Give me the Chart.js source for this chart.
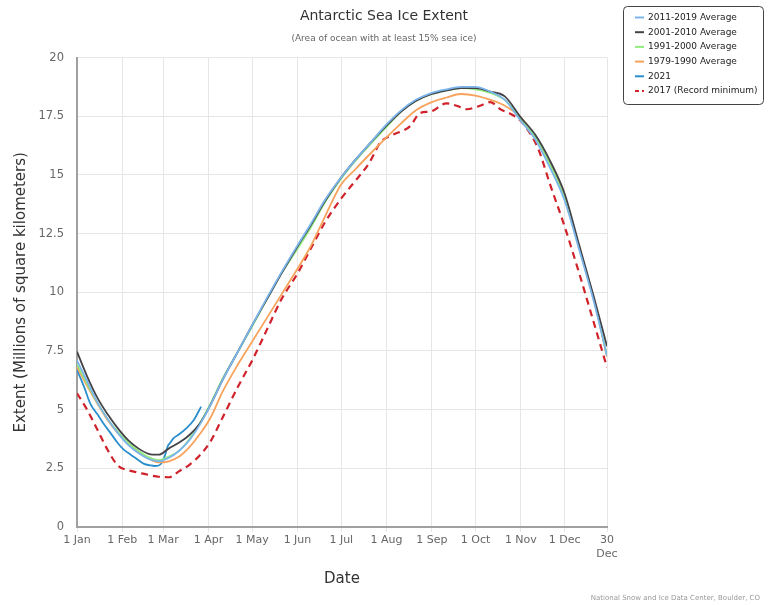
<!DOCTYPE html>
<html>
<head>
<meta charset="utf-8">
<script src="https://cdn.jsdelivr.net/npm/chart.js"></script>
<style>
  body { margin: 0; background: #fff; }
  #wrap { width: 768px; height: 605px; }
</style>
</head>
<body>
<div id="wrap"><canvas id="js--chart" width="768" height="605"></canvas></div>
<script>
// day of year (0 = 1 Jan) for the averages
const days = [0, 7, 14, 21, 28, 35, 42, 49, 56, 63, 70, 77, 84, 91, 100, 110, 120, 130, 140, 151,
  160, 170, 181, 190, 200, 212, 222, 232, 243, 253, 263, 273, 283, 293, 304, 314, 324, 334, 344, 354, 363];

const avg2011 = [7.1, 6.2, 5.3, 4.6, 4.0, 3.5, 3.15, 2.9, 2.8, 2.95, 3.25, 3.7, 4.35, 5.15, 6.3, 7.45, 8.6, 9.75, 10.85, 12.0,
  12.9, 13.95, 14.9, 15.6, 16.3, 17.15, 17.75, 18.2, 18.5, 18.65, 18.75, 18.75, 18.55, 18.2, 17.3, 16.5, 15.3, 13.9, 11.8, 9.6, 7.3];
const avg2001 = [7.47, 6.41, 5.5, 4.8, 4.2, 3.7, 3.35, 3.12, 3.08, 3.35, 3.6, 3.92, 4.4, 5.15, 6.3, 7.45, 8.6, 9.7, 10.8, 11.95,
  12.85, 13.9, 14.9, 15.6, 16.3, 17.1, 17.7, 18.15, 18.45, 18.6, 18.7, 18.7, 18.55, 18.35, 17.45, 16.7, 15.6, 14.2, 12.0, 9.8, 7.7];
const avg1991 = [6.95, 6.1, 5.3, 4.6, 4.05, 3.6, 3.25, 2.98, 2.85, 3.0, 3.25, 3.75, 4.4, 5.2, 6.35, 7.45, 8.55, 9.7, 10.8, 11.85,
  12.75, 13.85, 14.85, 15.55, 16.25, 17.05, 17.7, 18.15, 18.45, 18.6, 18.7, 18.65, 18.5, 18.2, 17.4, 16.6, 15.45, 14.0, 11.9, 9.7, 7.3];
const avg1979 = [6.83, 6.0, 5.25, 4.55, 4.0, 3.55, 3.2, 2.92, 2.75, 2.8, 3.0, 3.4, 3.95, 4.6, 5.8, 6.9, 7.9, 8.9, 9.9, 11.0,
  11.95, 13.25, 14.6, 15.2, 15.85, 16.6, 17.2, 17.75, 18.1, 18.3, 18.45, 18.38, 18.2, 17.95, 17.45, 16.6, 15.5, 14.0, 11.9, 9.7, 7.25];

const days2021 = [0, 5, 9, 14, 18, 23, 28, 32, 37, 41, 46, 50, 53, 56, 58, 60, 62, 64, 66, 70, 75, 80, 85];
const ext2021 = [6.7, 5.95, 5.27, 4.8, 4.42, 4.0, 3.57, 3.3, 3.07, 2.9, 2.69, 2.63, 2.6, 2.62, 2.74, 3.0, 3.42, 3.6, 3.78, 3.95, 4.21, 4.56, 5.13];

const days2017 = [0, 7, 14, 21, 28, 35, 42, 49, 56, 63, 70, 77, 84, 91, 100, 110, 120, 130, 140, 151, 160, 170, 181, 190, 200,
  208, 216, 228, 235, 242, 253, 260, 267, 276, 283, 290, 297, 304, 310, 316, 324, 334, 344, 354, 363];
const ext2017 = [5.7, 4.99, 4.14, 3.28, 2.62, 2.42, 2.32, 2.22, 2.14, 2.12, 2.38, 2.65, 3.05, 3.6, 4.7, 5.95, 7.1, 8.4, 9.7, 10.8,
  11.85, 13.0, 14.0, 14.7, 15.5, 16.4, 16.7, 17.07, 17.64, 17.7, 18.05, 17.95, 17.8, 17.95, 18.1, 17.8, 17.6, 17.3, 16.8, 16.1,
  14.6, 12.8, 10.8, 8.7, 6.8];

// x ticks at the start of each month
const tickDays = [0, 31, 59, 90, 120, 151, 181, 212, 243, 273, 304, 334, 363];
const tickLabels = ['1 Jan', '1 Feb', '1 Mar', '1 Apr', '1 May', '1 Jun', '1 Jul', '1 Aug', '1 Sep', '1 Oct', '1 Nov', '1 Dec', ['30', 'Dec']];

const FONT = '"DejaVu Sans", "Lucida Grande", sans-serif';

function pts(xs, ys) {
    return xs.map((d, i) => ({x: d, y: ys[i]}));
}

function line(label, xs, ys, color, dash) {
    return {
        label: label,
        data: pts(xs, ys),
        borderColor: color,
        backgroundColor: color,
        borderWidth: dash ? 2.2 : 1.8,
        borderDash: dash || [],
        pointRadius: 0,
        cubicInterpolationMode: 'monotone',
        fill: false
    };
}

// legend box top right + credit line
const extras = {
    id: 'extras',
    afterDraw(chart) {
        const ctx = chart.ctx;
        ctx.save();
        ctx.strokeStyle = '#444';
        ctx.lineWidth = 1;
        ctx.beginPath();
        ctx.roundRect(623.5, 6.5, 140, 98, 4);
        ctx.stroke();

        ctx.font = '9px ' + FONT;
        ctx.textBaseline = 'middle';
        chart.data.datasets.forEach((ds, i) => {
            const y = 17.5 + i * 14.7;
            ctx.strokeStyle = ds.borderColor;
            ctx.lineWidth = 2;
            ctx.setLineDash(ds.borderDash.length ? [4, 3] : []);
            ctx.beginPath();
            ctx.moveTo(635, y);
            ctx.lineTo(644, y);
            ctx.stroke();
            ctx.setLineDash([]);
            ctx.fillStyle = '#222';
            ctx.fillText(ds.label, 648, y);
        });

        ctx.font = '7px ' + FONT;
        ctx.fillStyle = '#999';
        ctx.textAlign = 'right';
        ctx.fillText('National Snow and Ice Data Center, Boulder, CO', 760, 598);
        ctx.restore();
    }
};

const data = {
    datasets: [
        line('2011-2019 Average', days, avg2011, '#7cb5ec'),
        line('2001-2010 Average', days, avg2001, '#434348'),
        line('1991-2000 Average', days, avg1991, '#90ed7d'),
        line('1979-1990 Average', days, avg1979, '#f7a35c'),
        line('2021', days2021, ext2021, '#2b8fce'),
        line('2017 (Record minimum)', days2017, ext2017, '#d0222b', [7, 5])
    ]
};

const config = {
    type: 'line',
    data: data,
    options: {
        responsive: false,
        animation: false,
        devicePixelRatio: 1,
        layout: {padding: 0},
        plugins: {
            legend: {display: false},
            tooltip: {enabled: false},
            title: {
                display: true,
                text: 'Antarctic Sea Ice Extent',
                color: '#333',
                font: {family: FONT, size: 14, weight: 'normal'},
                padding: {top: 8, bottom: 5}
            },
            subtitle: {
                display: true,
                text: '(Area of ocean with at least 15% sea ice)',
                color: '#666',
                font: {family: FONT, size: 9},
                padding: {top: 3, bottom: 14}
            }
        },
        scales: {
            x: {
                type: 'linear',
                min: 0,
                max: 363,
                afterBuildTicks: s => { s.ticks = tickDays.map(v => ({value: v})); },
                afterFit: s => { s.height = 78; },
                ticks: {
                    autoSkip: false,
                    maxRotation: 0,
                    color: '#666',
                    padding: 2,
                    font: {family: FONT, size: 11},
                    callback: (v, i) => tickLabels[i]
                },
                grid: {color: '#e6e6e6', tickLength: 5, tickColor: '#e6e6e6'},
                border: {color: '#a0a0a0', width: 2},
                title: {
                    display: true,
                    text: 'Date',
                    color: '#333',
                    font: {family: FONT, size: 15},
                    padding: {bottom: 17}
                }
            },
            y: {
                min: 0,
                max: 20,
                afterFit: s => { s.width = 77; },
                ticks: {
                    stepSize: 2.5,
                    color: '#666',
                    padding: 13,
                    font: {family: FONT, size: 11.5}
                },
                grid: {color: '#e6e6e6', drawTicks: false},
                border: {color: '#a0a0a0', width: 2},
                title: {
                    display: true,
                    text: 'Extent (Millions of square kilometers)',
                    color: '#333',
                    font: {family: FONT, size: 15},
                    padding: {top: 12}
                }
            },
            yRight: {
                position: 'right',
                display: true,
                afterFit: s => { s.width = 161; },
                ticks: {display: false},
                grid: {display: false},
                border: {display: false}
            }
        }
    },
    plugins: [extras]
};

new Chart(document.getElementById('js--chart'), config);
</script>
</body>
</html>
